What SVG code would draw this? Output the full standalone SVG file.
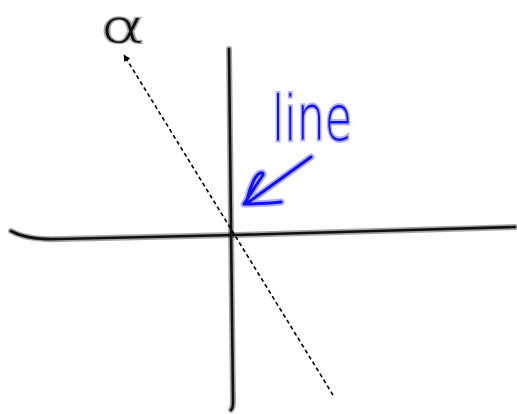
<svg xmlns="http://www.w3.org/2000/svg" width="517" height="414" viewBox="0 0 517 414">
  <defs>
    <style>
      .halo{fill:none;stroke:#000;stroke-opacity:0.35;stroke-width:6;stroke-linecap:round;stroke-linejoin:round}
      .ink{fill:none;stroke:#111;stroke-width:2.6;stroke-linecap:round;stroke-linejoin:round}
      .bhalo{fill:none;stroke:#2020ff;stroke-opacity:0.35;stroke-width:7;stroke-linecap:round;stroke-linejoin:round}
      .bink{fill:none;stroke:#1010ff;stroke-width:3;stroke-linecap:round;stroke-linejoin:round}
      .dash{fill:none;stroke:#000;stroke-width:1.6;stroke-dasharray:4 3}
      .hw{font-family:"DejaVu Sans",sans-serif;paint-order:stroke}
    </style>
    <marker id="ah" viewBox="0 0 10 10" refX="9" refY="5" markerWidth="7" markerHeight="7" markerUnits="userSpaceOnUse" orient="auto">
      <path d="M0,0 L10,5 L0,10 Z" fill="#000"/>
    </marker>
  </defs>

  <g id="connectors">
    <g id="x-axis">
      <path class="halo" d="M11,231 C20,236 35,240 60,239 C100,238 150,237 235,235 C330,233 420,229 515,227"/>
      <path class="ink" d="M11,231 C20,236 35,240 60,239 C100,238 150,237 235,235 C330,233 420,229 515,227"/>
    </g>
    <g id="y-axis">
      <path class="halo" d="M229,49 C230,150 232,300 233,402 C233,408 231,410 231,410"/>
      <path class="ink" d="M229,49 C230,150 232,300 233,402 C233,408 231,410 231,410"/>
    </g>
    <g id="dashed-line">
      <path class="dash" d="M333,395 L124,55" marker-end="url(#ah)"/>
    </g>
    <g id="blue-arrow">
      <path class="bhalo" d="M311,157 L246,204 M281,202 C270,203 255,204 244,204 C250,195 258,182 263,175 C264,171 258,172 254,180 C250,188 248,195 247,200"/>
      <path class="bink" d="M311,157 L246,204 M281,202 C270,203 255,204 244,204 C250,195 258,182 263,175 C264,171 258,172 254,180 C250,188 248,195 247,200"/>
    </g>
  </g>

  <g id="alpha-label">
    <text class="hw" x="100" y="42" font-size="44" font-weight="200" textLength="45" lengthAdjust="spacingAndGlyphs" fill="#111" stroke="#000" stroke-opacity="0.35" stroke-width="2.5">α</text>
  </g>
  <g id="line-label">
    <text class="hw" x="272" y="140" font-size="62" font-weight="300" textLength="80" lengthAdjust="spacingAndGlyphs" fill="#1010ff" stroke="#2020ff" stroke-opacity="0.35" stroke-width="4">line</text>
  </g>
</svg>
